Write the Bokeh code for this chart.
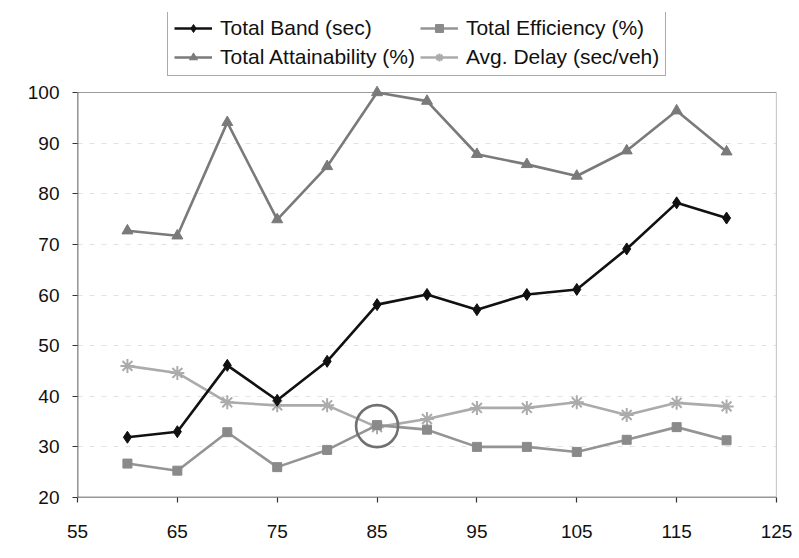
from bokeh.plotting import figure
from bokeh.models import Legend, LegendItem, FixedTicker, ColumnDataSource
from bokeh.embed import file_html
from bokeh.resources import INLINE

# ---- data ----
cycle = [60, 65, 70, 75, 80, 85, 90, 95, 100, 105, 110, 115, 120]
total_band = [31.9, 33.0, 46.1, 39.2, 46.9, 58.1, 60.1, 57.1, 60.1, 61.1, 69.1, 78.2, 75.2]
total_efficiency = [26.7, 25.3, 32.9, 26.0, 29.4, 34.3, 33.4, 30.0, 30.0, 29.0, 31.4, 33.9, 31.3]
total_attainability = [72.7, 71.7, 94.1, 74.9, 85.4, 100.0, 98.3, 87.8, 85.8, 83.5, 88.5, 96.4, 88.3]
avg_delay = [46.0, 44.6, 38.8, 38.2, 38.2, 33.9, 35.5, 37.7, 37.7, 38.8, 36.3, 38.7, 38.0]
x_ticks = [55, 65, 75, 85, 95, 105, 115, 125]
y_ticks = [20, 30, 40, 50, 60, 70, 80, 90, 100]
highlight_index = 5

FONT = "Liberation Sans"

x0, x1 = x_ticks[0], x_ticks[-1]
y0, y1 = y_ticks[0], y_ticks[-1]
# plot area is 405 px tall for 20..100; the frame extends 80 px higher to hold the legend
y_top = y0 + (y1 - y0) * 485 / 405

p = figure(width=799, height=558, output_backend="svg", toolbar_location=None,
           x_range=(x0, x1), y_range=(y0, y_top),
           min_border_left=77, min_border_right=23, min_border_top=12, min_border_bottom=61)
p.background_fill_color = "white"
p.border_fill_color = "white"
p.outline_line_color = None

# axes
for ax in (p.xaxis[0], p.yaxis[0]):
    ax.axis_line_color = None
    ax.major_tick_line_color = "#333333"
    ax.major_tick_line_width = 1.2
    ax.major_tick_in = 0
    ax.major_tick_out = 5
    ax.minor_tick_line_color = None
    ax.major_label_text_font = FONT
    ax.major_label_text_font_size = "19px"
    ax.major_label_text_color = "#111111"
p.xaxis[0].ticker = FixedTicker(ticks=x_ticks)
p.yaxis[0].ticker = FixedTicker(ticks=y_ticks)
p.xaxis[0].major_label_standoff = 22
p.yaxis[0].major_label_standoff = 13

p.xgrid.grid_line_color = None
p.ygrid.ticker = FixedTicker(ticks=y_ticks[1:-1])
p.ygrid.grid_line_color = "#e2e2e2"
p.ygrid.grid_line_dash = "5 7"
p.ygrid.grid_line_width = 1

# plot-area border (light) and the two axis lines (dark)
p.segment(x0=[x0, x1], y0=[y1, y0], x1=[x1, x1], y1=[y1, y1],
          line_color="#9a9a9a", line_width=1.2)
p.segment(x0=[x0, x0], y0=[y0, y0], x1=[x1, x0], y1=[y0, y1],
          line_color="#333333", line_width=1.6)

src = ColumnDataSource(dict(x=cycle, band=total_band, eff=total_efficiency,
                            att=total_attainability, delay=avg_delay))

c_band = "#111111"
c_att = "#7a7a7a"
c_eff = "#949494"
c_delay = "#ababab"

l_att = p.line("x", "att", source=src, line_color=c_att, line_width=2.6)
m_att = p.scatter("x", "att", source=src, marker="triangle", size=11,
                  fill_color=c_att, line_color=c_att)
l_delay = p.line("x", "delay", source=src, line_color=c_delay, line_width=2.6)
m_delay = p.scatter("x", "delay", source=src, marker="asterisk", size=14,
                    line_color=c_delay, line_width=2)
l_eff = p.line("x", "eff", source=src, line_color=c_eff, line_width=2.6)
m_eff = p.scatter("x", "eff", source=src, marker="square", size=9,
                  fill_color="#8a8a8a", line_color="#8a8a8a")
l_band = p.line("x", "band", source=src, line_color=c_band, line_width=2.6)
m_band = p.scatter("x", "band", source=src, marker="diamond", size=12,
                   fill_color=c_band, line_color=c_band)

# highlight circle around the crossing point
hx = [cycle[highlight_index]]
hy = [(total_efficiency[highlight_index] + avg_delay[highlight_index]) / 2]
p.scatter(hx, hy, marker="circle", size=42, fill_color=None,
          line_color="#707070", line_width=2.6)

# legend fills column by column: first column Band / Attainability
legend = Legend(items=[
    LegendItem(label="Total Band (sec)", renderers=[l_band, m_band]),
    LegendItem(label="Total Attainability (%)", renderers=[l_att, m_att]),
    LegendItem(label="Total Efficiency (%)", renderers=[l_eff, m_eff]),
    LegendItem(label="Avg. Delay (sec/veh)", renderers=[l_delay, m_delay]),
], ncols=2, location=(90, 421))
legend.label_text_font = FONT
legend.label_text_font_size = "21px"
legend.label_text_color = "#111111"
legend.glyph_width = 38
legend.glyph_height = 20
legend.label_standoff = 8
legend.spacing = 5
legend.padding = 6
legend.margin = 0
legend.label_height = 22
legend.border_line_color = "#555555"
legend.border_line_width = 1.2
legend.background_fill_color = "white"
legend.background_fill_alpha = 1
p.add_layout(legend, "center")

open("out.html", "w").write(file_html(p, INLINE))
